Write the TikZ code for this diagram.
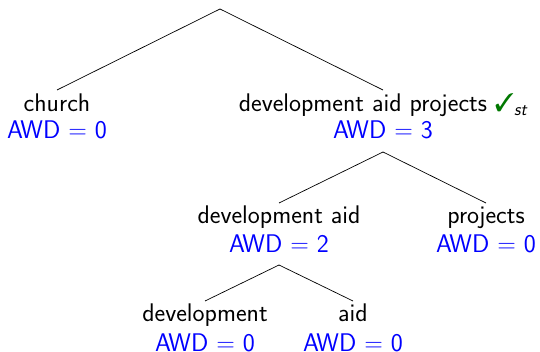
\documentclass[tikz,border=0pt]{standalone}
\usepackage{fontspec}
\setmainfont{Latin Modern Sans}
\usepackage{pifont}
\definecolor{awdblue}{RGB}{0,0,255}
\definecolor{okgreen}{RGB}{0,120,0}
\begin{document}
\begin{tikzpicture}[x=1pt,y=-1pt,
  every node/.style={font=\fontsize{25.5}{30}\selectfont, inner sep=0pt},
  word/.style={anchor=base},
  score/.style={anchor=base, text=awdblue},
  branch/.style={draw=black, line width=0.7pt, line join=miter}]
\useasboundingbox (0,0) rectangle (540,352);

% words and their AWD scores
\coordinate (root) at (220,9);
\node[word]  (church)  at (57,112)  {church};
\node[score] (churchS) at (57,139)  {AWD = 0};
\node[word]  (dap)     at (383,112) {development aid projects {\color{okgreen}\ding{51}}\textsubscript{\itshape st}};
\node[score] (dapS)    at (383,139) {AWD = 3};
\node[word]  (da)      at (279,224) {development aid};
\node[score] (daS)     at (279,253) {AWD = 2};
\node[word]  (proj)    at (486,224) {projects};
\node[score] (projS)   at (486,253) {AWD = 0};
\node[word]  (dev)     at (205,321) {development};
\node[score] (devS)    at (205,351) {AWD = 0};
\node[word]  (aid)     at (353,321) {aid};
\node[score] (aidS)    at (353,351) {AWD = 0};

% tree branches
\draw[branch] ([yshift=22pt]church.base) -- (root) -- ([yshift=22pt]dap.base);
\draw[branch] ([yshift=21pt]da.base) -- ([yshift=-13pt]dapS.base) -- ([yshift=21pt]proj.base);
\draw[branch] ([yshift=20pt]dev.base) -- ([yshift=-12pt]daS.base) -- ([yshift=20pt]aid.base);
\end{tikzpicture}
\end{document}
